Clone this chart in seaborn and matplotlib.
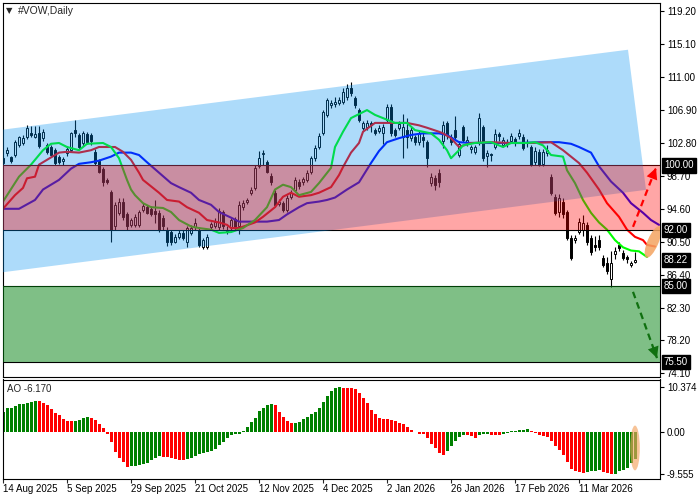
import numpy as np
import matplotlib
matplotlib.use("Agg")
import matplotlib.pyplot as plt
import matplotlib.transforms as mtransforms
from matplotlib.patches import Ellipse
import seaborn as sns

# ── Data: daily candles (bar index 0 = 14 Aug 2025) ─────────────
opens = [
    100.3, 101.5, 101.0, 101.3, 102.5, 102.8, 103.5, 104.0, 103.6, 104.1,
    103.4, 102.5, 102.3, 101.9, 101.0, 100.5, 101.5, 101.9, 104.4, 103.8,
    102.8, 103.9, 103.8, 101.7, 100.5, 99.5, 98.2, 96.7, 92.4, 94.1,
    95.5, 93.9, 92.6, 92.6, 92.6, 94.5, 94.8, 94.6, 94.3, 94.1,
    93.5, 92.0, 91.7, 90.5, 91.1, 91.6, 90.5, 91.6, 92.3, 92.0,
    89.9, 89.9, 92.3, 92.5, 92.3, 94.2, 92.0, 92.3, 93.3, 92.4,
    94.8, 95.5, 96.6, 97.2, 99.9, 101.4, 100.4, 98.7, 96.6, 95.2,
    95.3, 94.5, 96.1, 97.0, 98.0, 97.9, 98.2, 99.2, 100.9, 102.3,
    104.1, 106.3, 107.5, 107.6, 107.8, 107.9, 108.5, 109.7, 108.4, 106.9,
    104.7, 104.8, 105.3, 104.4, 104.3, 104.0, 105.7, 107.3, 104.4, 104.7,
    103.5, 104.4, 103.4, 103.5, 102.9, 103.5, 102.9, 97.8, 98.4, 99.1,
    103.0, 105.3, 103.5, 104.4, 101.3, 104.8, 102.9, 102.1, 101.7, 102.8,
    104.8, 101.2, 101.4, 102.3, 103.9, 102.6, 102.9, 103.1, 103.3, 103.7,
    103.5, 102.8, 102.3, 100.4, 101.7, 100.2, 101.5, 98.5, 96.1, 94.2,
    95.5, 94.2, 91.0, 90.7, 91.7, 92.0, 92.6, 91.0, 90.1, 90.7,
    88.5, 87.9, 85.8, 89.0, 90.1, 89.1, 88.6, 87.6, 88.0]
highs = [
    101.2, 102.3, 101.2, 103.2, 103.7, 103.8, 105.0, 104.9, 104.9, 104.9,
    104.6, 102.8, 102.6, 102.2, 101.3, 101.0, 102.4, 104.2, 105.7, 104.1,
    104.3, 104.2, 104.1, 102.0, 100.8, 99.8, 98.4, 97.0, 95.5, 95.9,
    95.9, 94.2, 93.5, 94.0, 94.5, 95.3, 95.1, 94.9, 95.7, 94.4,
    93.8, 92.3, 92.0, 91.5, 92.0, 92.0, 92.5, 92.6, 93.4, 92.3,
    91.0, 91.4, 93.0, 93.4, 94.7, 94.5, 92.4, 93.5, 93.6, 95.6,
    95.7, 96.0, 97.3, 100.0, 101.8, 101.9, 100.7, 99.0, 96.9, 95.8,
    95.6, 96.3, 96.9, 98.5, 98.3, 98.6, 99.4, 101.2, 102.5, 104.1,
    106.9, 108.4, 108.2, 108.5, 108.5, 109.6, 110.2, 110.4, 108.7, 107.2,
    105.6, 105.7, 105.6, 104.7, 105.0, 105.2, 107.6, 107.6, 104.7, 105.6,
    106.4, 105.9, 104.8, 103.8, 104.3, 104.3, 103.2, 99.0, 98.8, 99.5,
    105.6, 105.6, 103.9, 106.2, 103.0, 105.1, 103.7, 102.6, 102.6, 106.5,
    105.1, 101.9, 101.6, 104.5, 104.2, 103.5, 103.3, 104.0, 103.6, 104.6,
    103.9, 103.3, 102.6, 102.3, 102.0, 102.0, 102.6, 98.9, 96.4, 96.4,
    95.9, 94.5, 91.3, 91.3, 93.5, 93.8, 92.9, 91.3, 91.2, 91.3,
    88.8, 88.6, 89.4, 89.8, 90.4, 89.5, 88.9, 88.1, 89.2]
lows = [
    100.0, 101.2, 100.3, 101.0, 102.3, 102.6, 103.3, 103.5, 103.4, 102.2,
    103.1, 101.4, 101.1, 100.0, 100.2, 100.1, 101.2, 101.7, 103.6, 102.0,
    102.4, 102.7, 102.6, 100.0, 99.0, 97.4, 97.7, 90.4, 92.0, 93.8,
    93.2, 92.0, 92.3, 92.3, 92.3, 94.2, 93.9, 93.7, 92.8, 91.7,
    92.0, 90.0, 90.1, 90.3, 90.8, 90.7, 89.8, 91.3, 92.0, 89.8,
    89.6, 89.6, 91.9, 92.2, 92.0, 92.1, 91.4, 92.0, 92.0, 91.4,
    94.5, 95.2, 96.3, 96.9, 99.7, 100.0, 99.0, 97.6, 94.8, 94.9,
    94.2, 94.2, 95.8, 96.7, 97.1, 97.6, 97.9, 98.9, 100.6, 102.0,
    103.8, 106.0, 107.2, 107.3, 107.5, 107.6, 108.2, 108.7, 107.2, 105.4,
    104.4, 104.4, 104.2, 103.8, 104.0, 102.7, 105.4, 103.7, 103.5, 104.4,
    100.9, 102.2, 103.1, 102.6, 102.6, 102.3, 99.8, 97.4, 97.0, 97.3,
    102.2, 103.3, 102.6, 103.3, 101.0, 102.9, 102.4, 101.5, 101.4, 102.5,
    100.6, 99.8, 100.5, 102.0, 103.1, 102.3, 102.3, 102.8, 102.4, 103.3,
    101.9, 102.3, 99.9, 100.1, 99.9, 99.9, 101.2, 96.3, 93.8, 93.6,
    93.5, 90.7, 88.2, 90.3, 91.4, 91.2, 90.1, 88.9, 89.4, 89.5,
    87.3, 86.5, 84.9, 88.4, 89.4, 88.2, 87.8, 87.3, 87.8]
closes = [
    100.9, 101.9, 100.6, 102.9, 103.5, 103.4, 104.7, 103.8, 103.9, 102.4,
    104.2, 101.7, 101.3, 100.3, 100.4, 100.8, 102.1, 104.0, 104.1, 102.3,
    104.0, 102.9, 103.0, 100.3, 99.2, 97.9, 98.0, 92.0, 95.1, 95.5,
    93.6, 92.4, 93.2, 93.6, 94.2, 94.9, 94.1, 94.0, 94.0, 92.0,
    92.4, 90.4, 90.4, 91.1, 91.6, 91.0, 92.2, 92.2, 92.8, 90.1,
    90.7, 91.1, 92.7, 93.0, 94.3, 92.4, 91.8, 93.2, 92.3, 95.1,
    95.3, 95.7, 97.0, 99.7, 100.9, 101.6, 99.2, 97.9, 95.1, 95.5,
    94.5, 96.0, 96.6, 98.2, 97.4, 98.3, 99.1, 100.9, 102.2, 103.7,
    106.6, 108.1, 107.8, 107.9, 108.1, 109.1, 109.7, 109.0, 107.5, 105.7,
    105.3, 105.3, 105.0, 104.1, 104.7, 104.8, 107.3, 104.0, 103.8, 105.2,
    104.8, 103.5, 104.4, 102.9, 104.0, 103.2, 100.9, 98.5, 97.6, 97.9,
    105.0, 103.8, 102.9, 103.6, 102.7, 103.2, 103.2, 102.3, 102.3, 105.9,
    100.9, 101.5, 101.3, 103.9, 103.7, 103.2, 102.7, 103.7, 102.9, 104.1,
    102.2, 102.9, 100.1, 101.8, 100.1, 101.7, 101.9, 96.6, 94.1, 96.0,
    93.9, 91.0, 88.5, 91.0, 93.0, 92.8, 90.4, 89.2, 89.8, 89.8,
    87.6, 86.8, 87.9, 89.3, 89.7, 88.5, 88.3, 87.8, 88.22]

# ── Alligator lines (bar index -> price) ────
jaw_idx = [0, 4, 8, 10, 14, 17, 19, 22, 24, 27, 29, 32, 34, 36, 39, 42, 44, 47, 49, 52,
           54, 57, 59, 63, 66, 69, 71, 74, 76, 79, 81, 83, 86, 89, 92, 94, 96, 99, 102, 105,
           109, 111, 114, 117, 122, 129, 135, 139, 142, 144, 147, 149, 152, 155, 157, 160, 162, 164]
jaw_val = [94.6, 94.6, 95.7, 97.0, 98.2, 99.6, 100.2, 100.4, 100.6, 101.1,
           101.6, 101.6, 101.3, 100.4, 99.1, 97.8, 97.3, 96.6, 95.7, 95.1,
           94.2, 93.5, 93.0, 93.0, 93.0, 93.2, 93.9, 94.8, 95.3, 95.5,
           95.7, 96.0, 97.0, 97.9, 100.3, 101.8, 102.9, 103.4, 103.8, 104.0,
           104.0, 103.8, 102.9, 102.8, 102.8, 102.8, 102.9, 102.9, 102.7, 102.3,
           101.6, 99.9, 98.0, 96.6, 95.3, 94.1, 93.2, 92.6]
teeth_idx = [0, 3, 5, 6, 8, 9, 11, 14, 16, 19, 22, 24, 28, 30, 32, 34, 35, 36, 39, 41,
             44, 46, 49, 51, 54, 56, 57, 59, 63, 65, 68, 70, 72, 74, 77, 79, 82, 84, 85, 87,
             89, 90, 93, 96, 99, 101, 104, 106, 109, 110, 112, 114, 117, 122, 127, 132, 137, 140,
             144, 146, 149, 151, 154, 156, 158, 160, 161, 163]
teeth_val = [94.6, 96.3, 97.2, 98.4, 98.6, 100.1, 100.7, 101.6, 101.7, 101.6,
             101.9, 102.3, 102.3, 101.7, 100.7, 99.1, 98.2, 97.8, 96.6, 95.7,
             95.5, 94.8, 94.1, 93.2, 92.9, 92.6, 92.2, 92.2, 92.9, 93.6,
             94.8, 96.1, 96.6, 96.1, 96.3, 96.6, 97.3, 98.8, 99.8, 101.6,
             102.8, 104.2, 105.3, 105.3, 105.3, 105.3, 105.0, 104.7, 104.2, 104.0,
             103.4, 102.3, 102.8, 102.9, 102.8, 102.8, 102.9, 101.9, 100.3, 99.1,
             97.0, 95.3, 93.6, 92.0, 91.1, 90.7, 90.1, 89.9]
lips_idx = [0, 4, 7, 10, 12, 14, 16, 19, 21, 25, 27, 29, 31, 32, 33, 35, 37, 40, 42, 44,
            47, 49, 52, 54, 57, 60, 63, 66, 68, 70, 72, 74, 77, 79, 82, 83, 85, 87, 91, 93,
            96, 98, 101, 103, 107, 109, 111, 112, 114, 115, 118, 122, 125, 127, 131, 133, 135, 137,
            140, 141, 143, 145, 147, 149, 151, 153, 155, 157, 159, 161]
lips_val = [95.5, 98.6, 100.1, 101.9, 102.7, 102.8, 102.3, 101.9, 102.7, 102.8,
            102.3, 100.9, 98.2, 97.0, 96.3, 95.3, 94.8, 94.7, 94.2, 93.2,
            92.4, 92.2, 92.0, 91.6, 91.7, 92.2, 93.2, 94.8, 97.0, 97.6,
            97.3, 96.3, 96.7, 97.8, 99.7, 102.3, 104.2, 105.9, 106.9, 106.3,
            105.7, 105.3, 105.3, 104.4, 104.0, 103.2, 101.9, 100.9, 101.9, 102.5,
            102.8, 102.9, 102.3, 102.8, 102.8, 102.9, 102.5, 101.3, 101.1, 99.4,
            97.8, 95.7, 94.1, 92.9, 92.0, 90.7, 89.8, 89.4, 89.3, 88.6]

# ── Awesome Oscillator ──────────────────────────────────────────
ao_vals = [
    4.6, 5.5, 5.7, 6.1, 6.4, 6.6, 6.8, 7.0, 7.2, 7.1,
    6.8, 6.3, 5.4, 4.5, 4.0, 3.1, 2.6, 2.5, 2.7, 2.9,
    3.4, 3.5, 3.4, 2.8, 1.9, 1.1, -0.3, -2.2, -4.6, -6.0,
    -6.9, -7.9, -7.8, -7.7, -7.5, -7.3, -7.0, -6.4, -6.0, -5.55,
    -5.6, -5.7, -5.9, -6.1, -6.3, -6.35, -6.2, -5.9, -5.5, -5.1,
    -4.8, -4.6, -4.3, -3.8, -2.9, -2.2, -1.4, -0.7, -0.5, -0.3,
    0.3, 1.2, 2.3, 3.3, 4.8, 5.7, 6.3, 6.5, 6.3, 4.7,
    3.6, 2.5, 2.1, 2.2, 2.4, 3.0, 3.5, 4.1, 4.6, 5.7,
    7.0, 8.4, 9.4, 10.1, 10.374, 10.3, 10.2, 10.1, 9.9, 9.0,
    7.8, 6.7, 5.1, 4.1, 3.2, 3.1, 3.0, 2.8, 2.5, 2.2,
    1.9, 1.2, 0.5, 0.1, -0.4, -0.5, -1.4, -2.7, -3.7, -4.8,
    -5.2, -4.4, -3.1, -1.9, -1.0, -0.6, -0.65, -0.8, -1.4, -0.6,
    -0.5, -0.4, -0.6, -0.62, -0.65, -0.5, -0.2, 0.3, 0.4, 0.5,
    0.55, 0.7, 0.3, -0.1, -0.6, -0.8, -1.0, -2.0, -3.1, -4.1,
    -5.2, -6.9, -8.5, -8.8, -9.2, -9.4, -9.2, -8.9, -8.8, -8.7,
    -9.2, -9.4, -9.555, -9.5, -9.0, -8.6, -8.1, -7.1, -6.17]
ao_colors = ("GGGGGGGGG" "RRRRRRRRR" "GGGG" "RRRRRRRRRR" "GGGGGGGG" "RRRRRR"
             "GGGGGGGGGGGGGGGGGGGGGG" "RRRRR" "GGGGGGGGGGGG"
             "RRRRRRRRRRRRRRRRRRRRRRRRRR" "GGGGG" "RRR" "GGG" "RRR" "GGGGGGG"
             "RRRRRRRRRRRRRR" "GGGG" "RRR" "GGGGGG")

# ── Levels, channel and annotations ─────────────────────────────
level_lines = [100.0, 92.0, 85.0, 75.5]
sell_zone = (92.0, 100.0)
buy_zone = (75.5, 85.0)
channel_x = [-0.25, 156.25, 160.75, -0.25]
channel_y = [104.45, 114.42, 96.96, 86.68]
up_arrow = [(157.5, 92.35), (163.25, 99.7)]
down_arrow = [(157.5, 84.25), (163.5, 76.0)]

price_ticks = [119.2, 115.1, 111.0, 106.9, 102.8, 98.7, 94.6, 90.5, 86.4, 82.3, 78.2, 74.1]
boxed_prices = [100.0, 92.0, 88.22, 85.0, 75.5]
ao_ticks = [10.374, 0.0, -9.555]
ao_tick_labels = ["10.374", "0.00", "-9.555"]
date_idx = [0, 16, 32, 48, 64, 80, 96, 112, 128, 144]
date_labels = ["14 Aug 2025", "5 Sep 2025", "29 Sep 2025", "21 Oct 2025", "12 Nov 2025",
               "4 Dec 2025", "2 Jan 2026", "26 Jan 2026", "17 Feb 2026", "11 Mar 2026"]

# ── Style ───────────────────────────────────────────────────────
sns.set_style("white")
plt.rcParams["font.family"] = ["Liberation Sans", "DejaVu Sans"]
plt.rcParams["axes.edgecolor"] = "black"
plt.rcParams["axes.linewidth"] = 0.8

W, H = 700, 500
fig = plt.figure(figsize=(7, 5), dpi=100)
ax = fig.add_axes([2.7 / W, 1 - 377 / H, 657.3 / W, 374.3 / H])
ax_ao = fig.add_axes([2.7 / W, 1 - 479 / H, 657.3 / W, 99.5 / H])

idx = np.arange(len(closes))
o, c = np.array(opens), np.array(closes)
hi, lo = np.array(highs), np.array(lows)
bull = c >= o

# --- candles ---
ax.vlines(idx, lo, hi, color="black", lw=0.8, zorder=1)
body = np.maximum(np.abs(c - o), 0.08)
ax.bar(idx, body, bottom=np.minimum(o, c), width=0.72,
       color=np.where(bull, "white", "black"), edgecolor="black",
       linewidth=0.7, zorder=1.5)

# --- alligator ---
sns.lineplot(x=jaw_idx, y=jaw_val, ax=ax, color="#0000ff", lw=1.5,
             estimator=None, sort=False, zorder=2)
sns.lineplot(x=teeth_idx, y=teeth_val, ax=ax, color="#ff0000", lw=1.5,
             estimator=None, sort=False, zorder=2)
sns.lineplot(x=lips_idx, y=lips_val, ax=ax, color="#00ff00", lw=1.5,
             estimator=None, sort=False, zorder=2)

for lvl in level_lines:
    ax.axhline(lvl, color="black", lw=0.8, zorder=2.2)

# --- translucent overlays ---
ax.fill(channel_x, channel_y, color=(0.0, 0.565, 0.94), alpha=0.32, lw=0, zorder=3)
ax.axhspan(*sell_zone, color="red", alpha=0.35, lw=0, zorder=4)
ax.axhspan(*buy_zone, color=(0.0, 0.5, 0.06), alpha=0.5, lw=0, zorder=4)


def dashed_arrow(a, p0, p1, col):
    a.plot([p0[0], p1[0]], [p0[1], p1[1]], color=col, lw=1.6,
           ls=(0, (3, 2)), zorder=6)
    tail = (p0[0] + 0.8 * (p1[0] - p0[0]), p0[1] + 0.8 * (p1[1] - p0[1]))
    a.annotate("", xy=p1, xytext=tail, zorder=6,
               arrowprops=dict(arrowstyle="-|>,head_length=0.9,head_width=0.45",
                               color=col, lw=0, mutation_scale=9,
                               shrinkA=0, shrinkB=0))


dashed_arrow(ax, up_arrow[0], up_arrow[1], "#ff0000")
dashed_arrow(ax, down_arrow[0], down_arrow[1], "#107010")

trans = fig.dpi_scale_trans + mtransforms.ScaledTranslation(162.5, 90.47, ax.transData)
ax.add_patch(Ellipse((0, 0), 0.34, 0.11, angle=67, transform=trans,
                     fc="#f4a460", alpha=0.85, lw=0, zorder=6))

ax.set_xlim(-0.075, 164.25)
ax.set_ylim(73.64, 120.28)
ax.set_xticks([])
ax.yaxis.tick_right()
ax.set_yticks(price_ticks)
ax.set_yticklabels([f"{v:.2f}" for v in price_ticks])
ax.tick_params(axis="y", direction="out", length=3, width=0.8, pad=2,
               labelsize=7, colors="black", right=True, left=False)
ax.set_xlabel("")
ax.set_ylabel("")
for v in boxed_prices:
    ax.text(1.006, v, f"{v:.2f}", transform=ax.get_yaxis_transform(),
            ha="left", va="center", color="white", fontsize=7,
            bbox=dict(boxstyle="square,pad=0.22", fc="black", ec="black"),
            clip_on=False)

# --- AO panel ---
bar_cols = ["#008000" if k == "G" else "#ff0000" for k in ao_colors]
ax_ao.bar(idx, ao_vals, width=0.75, color=bar_cols, lw=0, zorder=1)
ax_ao.add_patch(Ellipse((158, -3.6), 2.4, 10.3, fc="#f4a460", alpha=0.65,
                        lw=0, zorder=3))
ax_ao.set_xlim(-0.075, 164.25)
ax_ao.set_ylim(-10.74, 12.14)
ax_ao.yaxis.tick_right()
ax_ao.set_yticks(ao_ticks)
ax_ao.set_yticklabels(ao_tick_labels)
ax_ao.tick_params(axis="y", direction="out", length=3, width=0.8, pad=2,
                  labelsize=7, colors="black", right=True, left=False)
ax_ao.set_xticks(date_idx)
ax_ao.tick_params(axis="x", direction="out", length=3, width=0.8,
                  bottom=True, labelbottom=False)
for x, lab in zip(date_idx, date_labels):
    ax_ao.text(x, -0.05, lab, transform=ax_ao.get_xaxis_transform(),
               ha="left", va="top", fontsize=7, color="black")

fig.text(9 / W, 1 - 11 / H, "\u25bc", fontsize=6, ha="center", va="center",
         family=["DejaVu Sans"])
fig.text(18 / W, 1 - 11 / H, "#VOW,Daily", fontsize=7.5, ha="left", va="center")
fig.text(7 / W, 1 - 388.5 / H, "AO -6.170", fontsize=7, ha="left", va="center")

fig.savefig("out.png", dpi=100)
